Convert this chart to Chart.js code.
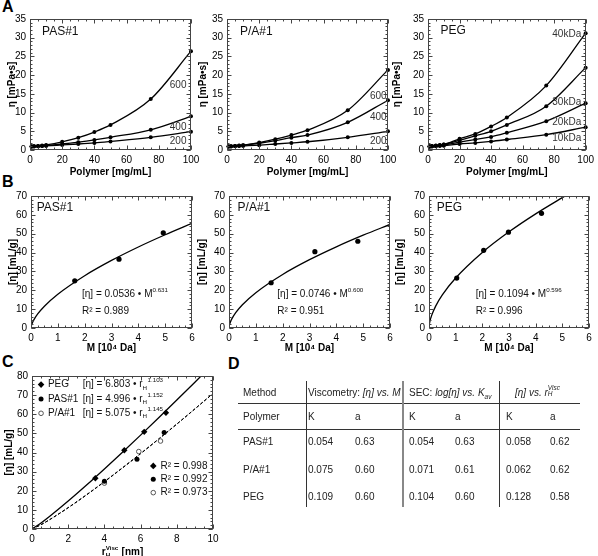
<!DOCTYPE html>
<html><head><meta charset="utf-8">
<script src="https://cdn.jsdelivr.net/npm/chart.js@4.4.1/dist/chart.umd.min.js"></script>
<style>
html,body{margin:0;padding:0;background:#fff;width:598px;height:556px;overflow:hidden;font-family:"Liberation Sans",Arial,sans-serif;position:relative;}
canvas{position:absolute;}
.plab{position:absolute;font-weight:bold;font-size:16px;line-height:16px;color:#000;}
.tc{position:absolute;font-size:10px;line-height:12px;color:#222;white-space:nowrap;}
.hl{position:absolute;height:1px;background:#333;}
.vl{position:absolute;width:1px;background:#333;}
.stk{display:inline-block;vertical-align:middle;font-size:6.5px;line-height:6px;text-align:left;position:relative;top:-2px;}
</style></head><body>
<div class="plab" style="left:2px;top:-1px">A</div>
<div class="plab" style="left:2px;top:174px">B</div>
<div class="plab" style="left:2px;top:354px">C</div>
<div class="plab" style="left:228px;top:356px">D</div>
<script>
// ---------------- DATA ----------------
// Panel A: viscosity vs concentration
const concA   = [1, 2.5, 5, 7.5, 10, 20, 30, 40, 50, 75, 100];
const pas600  = [0.95, 1.0, 1.1, 1.2, 1.35, 2.2, 3.3, 4.8, 6.7, 13.6, 26.4];
const pas400  = [0.93, 0.97, 1.03, 1.1, 1.2, 1.6, 2.1, 2.7, 3.4, 5.4, 9.0];
const pas200  = [0.92, 0.95, 1.0, 1.05, 1.1, 1.35, 1.6, 1.9, 2.3, 3.4, 4.9];
const pa600   = [0.95, 1.0, 1.1, 1.2, 1.3, 2.0, 2.9, 4.0, 5.3, 10.6, 21.4];
const pa400   = [0.94, 0.98, 1.06, 1.15, 1.25, 1.8, 2.5, 3.3, 4.0, 7.4, 13.3];
const pa200   = [0.92, 0.95, 1.0, 1.05, 1.1, 1.3, 1.6, 1.9, 2.2, 3.4, 5.0];
const peg40   = [0.95, 1.05, 1.2, 1.35, 1.5, 3.0, 4.3, 6.3, 8.7, 17.2, 31.2];
const peg30   = [0.95, 1.0, 1.15, 1.3, 1.45, 2.6, 3.8, 5.0, 6.7, 11.7, 22.0];
const peg20   = [0.93, 0.98, 1.08, 1.2, 1.3, 2.1, 2.8, 3.5, 4.6, 7.7, 12.5];
const peg10   = [0.92, 0.95, 1.0, 1.07, 1.15, 1.6, 1.9, 2.3, 2.8, 4.1, 6.1];
const ticksAx = [0, 20, 40, 60, 80, 100];
const ticksAy = [0, 5, 10, 15, 20, 25, 30, 35];

// Panel B: intrinsic viscosity vs molar mass
const bM_pas  = [1.63, 3.28, 4.93];       const bEta_pas = [25.0, 36.5, 50.5];
const bM_pa   = [1.57, 3.20, 4.80];       const bEta_pa  = [24.0, 40.5, 46.0];
const bM_peg  = [1.04, 2.05, 2.98, 4.22]; const bEta_peg = [26.5, 41.2, 50.8, 60.8];
const fitM    = [0, 0.01, 0.02, 0.05, 0.1, 0.25, 0.5, 1, 2, 3, 4, 5, 6];
const fitPas  = [0, 0.98, 1.52, 2.71, 4.19, 7.47, 11.57, 17.91, 27.74, 35.84, 42.97, 49.46, 55.50];
const fitPa   = [0, 1.18, 1.79, 3.10, 4.71, 8.16, 12.36, 18.74, 28.40, 36.23, 43.05, 49.22, 54.91];
const fitMPeg = [0, 0.01, 0.02, 0.05, 0.1, 0.25, 0.5, 1, 2, 3, 4, 5, 5.2];
const fitPeg  = [0, 1.70, 2.57, 4.44, 6.71, 11.59, 17.53, 26.49, 40.04, 50.99, 60.52, 69.13, 70.8];
const ticksBx = [0, 1, 2, 3, 4, 5, 6];
const ticksBy = [0, 10, 20, 30, 40, 50, 60, 70];

// Panel C: intrinsic viscosity vs hydrodynamic radius
const rH_peg  = [3.5, 5.1, 6.2, 7.4];     const cEta_peg = [26.5, 41.2, 50.8, 60.8];
const rH_pas  = [4.0, 5.8, 7.3];          const cEta_pas = [25.0, 36.5, 50.5];
const rH_pa   = [4.0, 5.9, 7.1];          const cEta_pa  = [24.0, 40.5, 46.0];
const fitR    = [0, 0.5, 1, 2, 3, 4, 5, 6, 7, 8, 9, 10];
const fitRPeg = [0, 3.17, 6.80, 14.61, 22.85, 31.39, 40.15, 49.09, 58.19, 67.43, 76.77, 86.26];
const fitRPas = [0, 2.25, 5.00, 11.10, 17.71, 24.67, 31.90, 39.36, 47.01, 54.82, 62.79, 70.89];
const fitRPa  = [0, 2.29, 5.08, 11.22, 17.85, 24.82, 32.05, 39.48, 47.11, 54.89, 62.81, 70.88];
const ticksCx = [0, 2, 4, 6, 8, 10];
const ticksCy = [0, 10, 20, 30, 40, 50, 60, 70, 80];

// Panel D: table
const tPolymers = ['PAS#1', 'P/A#1', 'PEG'];
const tViscK = ['0.054', '0.075', '0.109'];
const tViscA = ['0.63', '0.60', '0.60'];
const tSecK  = ['0.054', '0.071', '0.104'];
const tSecA  = ['0.63', '0.61', '0.60'];
const tRhK   = ['0.058', '0.062', '0.128'];
const tRhA   = ['0.62', '0.62', '0.58'];

// ---------------- HELPERS ----------------
const FONT = '"Liberation Sans", Arial, sans-serif';
Chart.defaults.font.family = FONT;
Chart.defaults.font.size = 10;
Chart.defaults.color = '#000';
const xy = (xs, ys) => xs.map((x, i) => ({x, y: ys[i]}));

function fontStr(size, bold, italic) { return (italic ? 'italic ' : '') + (bold ? 'bold ' : '') + size + 'px ' + FONT; }
function drawRich(ctx, segs, x, y, size, bold, align, color) {
  const small = size * 0.62;
  const items = segs.map(s => {
    if (typeof s === 'string') s = {t: s};
    if (s.t !== undefined) { ctx.font = fontStr(size, bold, s.i); return {s, w: ctx.measureText(s.t).width}; }
    ctx.font = fontStr(small, bold, s.i);
    const w = Math.max(s.sup ? ctx.measureText(s.sup).width : 0, s.sub ? ctx.measureText(s.sub).width : 0);
    return {s, w: w + 0.5};
  });
  const total = items.reduce((a, b) => a + b.w, 0);
  let cx = align === 'center' ? x - total / 2 : align === 'right' ? x - total : x;
  ctx.save();
  ctx.fillStyle = color || '#000'; ctx.textBaseline = 'middle'; ctx.textAlign = 'left';
  items.forEach(({s, w}) => {
    if (s.t !== undefined) { ctx.font = fontStr(size, bold, s.i); ctx.fillText(s.t, cx, y); }
    else {
      ctx.font = fontStr(small, bold, s.i);
      if (s.sup) ctx.fillText(s.sup, cx, y - size * 0.4);
      if (s.sub) ctx.fillText(s.sub, cx, y + size * 0.32);
    }
    cx += w;
  });
  ctx.restore();
}
function drawMarker(ctx, type, x, y) {
  ctx.save();
  ctx.beginPath();
  if (type === 'diamond') {
    ctx.moveTo(x, y - 3.3); ctx.lineTo(x + 3.3, y); ctx.lineTo(x, y + 3.3); ctx.lineTo(x - 3.3, y); ctx.closePath();
    ctx.fillStyle = '#000'; ctx.fill();
  } else if (type === 'dot') {
    ctx.arc(x, y, 2.5, 0, Math.PI * 2); ctx.fillStyle = '#000'; ctx.fill();
  } else {
    ctx.arc(x, y, 2.3, 0, Math.PI * 2); ctx.fillStyle = '#fff'; ctx.fill();
    ctx.strokeStyle = '#555'; ctx.lineWidth = 1; ctx.stroke();
  }
  ctx.restore();
}
function notesPlugin(items) {
  return {
    id: 'notes',
    afterDraw(chart) {
      const {ctx, chartArea: a, scales: {x, y}} = chart;
      items.forEach(it => {
        const px = it.ax !== undefined ? (a.left + a.right) / 2 + it.ax : x.getPixelForValue(it.x);
        const py = it.ay !== undefined ? a.bottom + it.ay : y.getPixelForValue(it.y);
        if (it.marker) drawMarker(ctx, it.marker, px, py);
        else drawRich(ctx, it.segs, px, py, it.size || 10, it.bold, it.align || 'left', it.color || '#111');
      });
    }
  };
}
function framePlugin(f) {
  return {
    id: 'frame',
    afterDraw(chart) {
      const {ctx, chartArea: a, scales: {x, y}} = chart;
      ctx.save();
      ctx.strokeStyle = '#444'; ctx.lineWidth = 1;
      const L = Math.round(a.left) + 0.5, T = Math.round(a.top) + 0.5, R = Math.round(a.right) - 0.5, B = Math.round(a.bottom) - 0.5;
      ctx.beginPath();
      const tick = (axis, step, len, horiz) => {
        const n = Math.round((axis.max - axis.min) / step);
        for (let i = 0; i <= n; i++) {
          const p = Math.round(axis.getPixelForValue(axis.min + i * step)) + 0.5;
          if (horiz) { ctx.moveTo(p, B); ctx.lineTo(p, B - len); ctx.moveTo(p, T); ctx.lineTo(p, T + len); }
          else { ctx.moveTo(L, p); ctx.lineTo(L + len, p); ctx.moveTo(R, p); ctx.lineTo(R - len, p); }
        }
      };
      tick(x, f[1], 2, true); tick(y, f[3], 2, false);
      tick(x, f[0], 4, true); tick(y, f[2], 4, false);
      ctx.stroke();
      ctx.strokeRect(L, T, R - L, B - T);
      ctx.restore();
    }
  };
}
function makePanel(g, datasets, tx, ty, xt, yt, notes, frame) {
  const cv = document.createElement('canvas');
  cv.width = g.cw; cv.height = g.ch;
  cv.style.left = g.cl + 'px'; cv.style.top = g.ct + 'px';
  document.body.appendChild(cv);
  const axis = (ticks, title, tpad, fit) => ({
    type: 'linear', min: ticks[0], max: ticks[ticks.length - 1],
    grid: {display: false, drawTicks: false}, border: {display: false},
    ticks: {stepSize: ticks[1] - ticks[0], padding: 4, maxRotation: 0, autoSkip: false, font: {size: 10}, color: '#000'},
    title: {display: !!title, text: title, color: '#000', font: {size: 10, weight: 'bold'}, padding: {top: tpad, bottom: tpad}},
    afterFit: fit
  });
  return new Chart(cv, {
    type: 'scatter',
    data: {datasets},
    options: {
      responsive: false, animation: false, devicePixelRatio: 1,
      layout: {padding: {left: 0, top: g.T - g.ct, right: g.cl + g.cw - g.R, bottom: 0}},
      plugins: {legend: {display: false}, tooltip: {enabled: false}},
      scales: {
        x: axis(tx, xt, g.xtp || 0, s => { s.height = g.ct + g.ch - g.B; }),
        y: axis(ty, yt, g.ytp || 0, s => { s.width = g.L - g.cl; })
      }
    },
    plugins: [framePlugin(frame), notesPlugin(notes)]
  });
}
const curveA = (xs, ys) => ({data: xy(xs, ys), showLine: true, borderColor: '#000', borderWidth: 1.3, clip: 5,
  backgroundColor: '#000', pointRadius: 2, pointBorderWidth: 0, cubicInterpolationMode: 'monotone'});
const fitLine = (xs, ys, dash) => ({data: xy(xs, ys), showLine: true, borderColor: '#000', borderWidth: dash ? 1 : 1.3,
  borderDash: dash || [], pointRadius: 0, cubicInterpolationMode: 'monotone'});
const pts = (xs, ys, style, r, bg, bc) => ({data: xy(xs, ys), showLine: false, pointStyle: style, pointRadius: r, clip: 5,
  backgroundColor: bg || '#000', borderColor: bc || '#000', pointBorderWidth: bc ? 1 : 0});
const sz = 12;

// ---------------- PANEL A ----------------
const frameA = [20, 5, 5, 1];
const etaT = 'η [mPa•s]', polT = 'Polymer [mg/mL]';
makePanel({cl: 0, ct: 6, cw: 205, ch: 178, L: 30, R: 191, T: 19, B: 150, ytp: 6, xtp: 6},
  [curveA(concA, pas600), curveA(concA, pas400), curveA(concA, pas200)], ticksAx, ticksAy, polT, etaT,
  [{x: 7.5, y: 31.5, segs: ['PAS#1'], size: sz},
   {x: 92, y: 17.2, segs: ['600'], align: 'center', color: '#333'},
   {x: 92, y: 6.0, segs: ['400'], align: 'center', color: '#333'},
   {x: 92, y: 2.4, segs: ['200'], align: 'center', color: '#333'}], frameA);
makePanel({cl: 195, ct: 6, cw: 208, ch: 178, L: 227, R: 388, T: 19, B: 150, ytp: 2, xtp: 6},
  [curveA(concA, pa600), curveA(concA, pa400), curveA(concA, pa200)], ticksAx, ticksAy, polT, etaT,
  [{x: 8, y: 31.5, segs: ['P/A#1'], size: sz},
   {x: 94, y: 14.4, segs: ['600'], align: 'center', color: '#333'},
   {x: 94, y: 8.7, segs: ['400'], align: 'center', color: '#333'},
   {x: 94, y: 2.4, segs: ['200'], align: 'center', color: '#333'}], frameA);
makePanel({cl: 390, ct: 6, cw: 208, ch: 178, L: 428, R: 589, T: 19, B: 150, ytp: 1, xtp: 6},
  [curveA(concA, peg40), curveA(concA, peg30), curveA(concA, peg20), curveA(concA, peg10)], ticksAx, ticksAy, polT, etaT,
  [{x: 7.9, y: 32, segs: ['PEG'], size: sz},
   {x: 88, y: 31, segs: ['40kDa'], align: 'center', color: '#333'},
   {x: 88, y: 12.8, segs: ['30kDa'], align: 'center', color: '#333'},
   {x: 88, y: 7.3, segs: ['20kDa'], align: 'center', color: '#333'},
   {x: 88, y: 3.1, segs: ['10kDa'], align: 'center', color: '#333'}], frameA);

// ---------------- PANEL B ----------------
const frameB = [1, 0.25, 10, 2];
const ivT = '[η] [mL/g]', mT = 'M [10⁴ Da]';
const eqB = (k, a) => ['[η] = ' + k + ' • M', {sup: a}];
makePanel({cl: 0, ct: 184, cw: 205, ch: 173, L: 31, R: 192, T: 196, B: 328, ytp: 7, xtp: 3},
  [pts(bM_pas, bEta_pas, 'circle', 2.6), fitLine(fitM, fitPas)], ticksBx, ticksBy, mT, ivT,
  [{x: 0.21, y: 64, segs: ['PAS#1'], size: sz},
   {x: 1.9, y: 18, segs: eqB('0.0536', '0.631')},
   {x: 1.9, y: 8.8, segs: ['R² = 0.989']}], frameB);
makePanel({cl: 195, ct: 184, cw: 208, ch: 173, L: 229, R: 390, T: 196, B: 328, ytp: 1, xtp: 3},
  [pts(bM_pa, bEta_pa, 'circle', 2.6), fitLine(fitM, fitPa)], ticksBx, ticksBy, mT, ivT,
  [{x: 0.32, y: 64, segs: ['P/A#1'], size: sz},
   {x: 1.8, y: 18, segs: eqB('0.0746', '0.600')},
   {x: 1.8, y: 8.8, segs: ['R² = 0.951']}], frameB);
makePanel({cl: 390, ct: 184, cw: 208, ch: 173, L: 429, R: 589, T: 196, B: 328, ytp: 4, xtp: 3},
  [pts(bM_peg, bEta_peg, 'circle', 2.6), fitLine(fitMPeg, fitPeg)], ticksBx, ticksBy, mT, ivT,
  [{x: 0.29, y: 64, segs: ['PEG'], size: sz},
   {x: 1.75, y: 18, segs: eqB('0.1094', '0.596')},
   {x: 1.75, y: 8.8, segs: ['R² = 0.996']}], frameB);

// ---------------- PANEL C ----------------
const eqC = (k, a) => ['[η] = ' + k + ' • r', {sub: 'H'}, {sup: a}];
makePanel({cl: 0, ct: 366, cw: 225, ch: 194, L: 32, R: 213, T: 376, B: 529, ytp: 3},
  [pts(rH_peg, cEta_peg, 'rectRot', 3.2), pts(rH_pas, cEta_pas, 'circle', 2.5),
   pts(rH_pa, cEta_pa, 'circle', 2.3, '#fff', '#555'),
   fitLine(fitR, fitRPeg), fitLine(fitR, fitRPas, [3, 2]), fitLine(fitR, fitRPa, [3, 2])],
  ticksCx, ticksCy, '', ivT,
  [{marker: 'diamond', x: 0.5, y: 75.5}, {marker: 'dot', x: 0.5, y: 68}, {marker: 'open', x: 0.5, y: 60.5},
   {x: 0.88, y: 75.5, segs: ['PEG']}, {x: 0.88, y: 68, segs: ['PAS#1']}, {x: 0.88, y: 60.5, segs: ['P/A#1']},
   {x: 2.8, y: 75.5, segs: eqC('6.803', '1.103')},
   {x: 2.8, y: 68, segs: eqC('4.996', '1.152')},
   {x: 2.8, y: 60.5, segs: eqC('5.075', '1.145')},
   {marker: 'diamond', x: 6.7, y: 33}, {marker: 'dot', x: 6.7, y: 26}, {marker: 'open', x: 6.7, y: 19},
   {x: 7.1, y: 33, segs: ['R² = 0.998']}, {x: 7.1, y: 26, segs: ['R² = 0.992']}, {x: 7.1, y: 19, segs: ['R² = 0.973']},
   {ax: 0, ay: 23, segs: ['r', {sub: 'H', sup: 'Visc'}, ' [nm]'], bold: true, align: 'center', color: '#000'}],
  [2, 0.5, 10, 2]);

// ---------------- PANEL D (table) ----------------
const colX = [243, 308, 355, 409, 455, 506, 550];
const rowY = [393, 417, 442, 470, 497];
function cell(html, x, yc) {
  const d = document.createElement('div');
  d.className = 'tc'; d.style.left = x + 'px'; d.style.top = (yc - 6) + 'px';
  d.innerHTML = html; document.body.appendChild(d);
}
function line(cls, x, y, len, style) {
  const d = document.createElement('div');
  d.className = cls; d.style.left = x + 'px'; d.style.top = y + 'px';
  if (cls === 'hl') d.style.width = len + 'px'; else d.style.height = len + 'px';
  if (style) Object.assign(d.style, style);
  document.body.appendChild(d);
}
cell('Method', colX[0], rowY[0]);
cell('Viscometry: <i>[η] vs. M</i>', colX[1], rowY[0]);
cell('SEC: <i>log[η] vs. K<sub style="font-size:6.5px">av</sub></i>', colX[3], rowY[0]);
cell('<i>[η] vs. r</i><span class="stk"><i>Visc</i><br><i>H</i></span>', 515, rowY[0]);
cell('Polymer', colX[0], rowY[1]);
['K', 'a', 'K', 'a', 'K', 'a'].forEach((t, i) => cell(t, colX[i + 1], rowY[1]));
tPolymers.forEach((p, r) => {
  const y = rowY[r + 2];
  [p, tViscK[r], tViscA[r], tSecK[r], tSecA[r], tRhK[r], tRhA[r]].forEach((t, i) => cell(t, colX[i], y));
});
line('hl', 238, 403, 342);
line('hl', 238, 429, 342);
line('vl', 306, 381, 126);
line('vl', 402, 381, 126, {width: '2px', background: '#888'});
line('vl', 499, 381, 126);
</script>
</body></html>
